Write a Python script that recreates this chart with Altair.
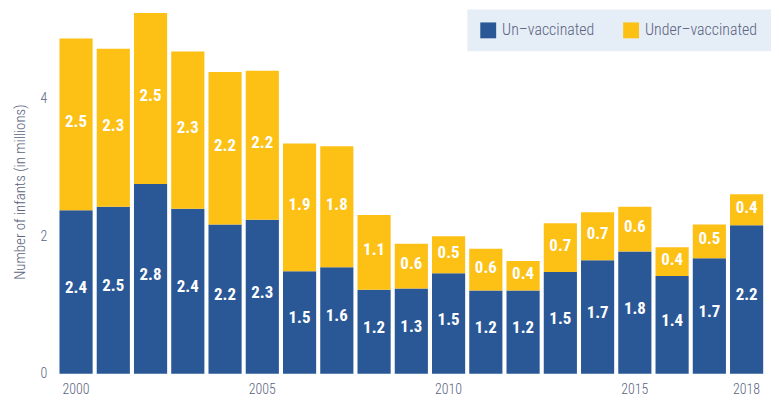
import altair as alt
import pandas as pd

years = list(range(2000, 2019))
unvacc = [2.38, 2.43, 2.76, 2.40, 2.17, 2.24, 1.49, 1.55, 1.22, 1.24,
          1.46, 1.21, 1.21, 1.48, 1.65, 1.78, 1.42, 1.68, 2.16]
undervacc = [2.50, 2.30, 2.49, 2.29, 2.22, 2.17, 1.86, 1.76, 1.09, 0.65,
             0.54, 0.61, 0.43, 0.71, 0.70, 0.65, 0.42, 0.49, 0.45]
unvacc_labels = ["2.4", "2.5", "2.8", "2.4", "2.2", "2.3", "1.5", "1.6", "1.2", "1.3",
                 "1.5", "1.2", "1.2", "1.5", "1.7", "1.8", "1.4", "1.7", "2.2"]
undervacc_labels = ["2.5", "2.3", "2.5", "2.3", "2.2", "2.2", "1.9", "1.8", "1.1", "0.6",
                    "0.5", "0.6", "0.4", "0.7", "0.7", "0.6", "0.4", "0.5", "0.4"]
series = ["Un–vaccinated", "Under–vaccinated"]
colors = ["#2a5796", "#fdc015"]
x_ticks = [2000, 2005, 2010, 2015, 2018]
y_ticks = [0, 2, 4]
y_title = "Number of infants (in millions)"

FONT = "Roboto Condensed"
TXT = "#5a6381"

rows = []
for i, yr in enumerate(years):
    rows.append({"year": yr, "series": series[0], "value": unvacc[i],
                 "label": unvacc_labels[i], "order": 0, "mid": unvacc[i] / 2})
    rows.append({"year": yr, "series": series[1], "value": undervacc[i],
                 "label": undervacc_labels[i], "order": 1,
                 "mid": unvacc[i] + undervacc[i] / 2})
df = pd.DataFrame(rows)

xenc = alt.X("year:O", title=None,
             scale=alt.Scale(paddingInner=0.11, paddingOuter=0.05),
             axis=alt.Axis(values=x_ticks, labelAngle=0, labelPadding=9))
yscale = alt.Scale(domain=[0, 5.3], nice=False)

bars = alt.Chart(df).mark_bar().encode(
    x=xenc,
    y=alt.Y("value:Q", stack="zero", scale=yscale, title=y_title,
            axis=alt.Axis(values=y_ticks, format="d", labelPadding=11, titlePadding=13)),
    color=alt.Color("series:N", scale=alt.Scale(domain=series, range=colors),
                    legend=alt.Legend(title=None, orient="none", legendX=413, legendY=0,
                                      direction="horizontal", fillColor="#e5edf6",
                                      padding=13, symbolType="square", symbolSize=256,
                                      symbolStrokeWidth=0, labelFontSize=16,
                                      labelFontWeight=300,
                                      labelColor=TXT, labelFont=FONT,
                                      columnPadding=28, labelOffset=6)),
    order=alt.Order("order:Q"),
)

text_un = alt.Chart(df).transform_filter(alt.datum.order == 0).mark_text(
    color="white", fontWeight="bold", fontSize=17, font=FONT, baseline="middle", dy=-4
).encode(x=xenc, y=alt.Y("mid:Q", scale=yscale), text="label:N")

text_under = alt.Chart(df).transform_filter(alt.datum.order == 1).mark_text(
    color="white", fontWeight="bold", fontSize=17, font=FONT, baseline="middle", dy=-2
).encode(x=xenc, y=alt.Y("mid:Q", scale=yscale), text="label:N")

chart = alt.layer(bars, text_un, text_under).properties(
    width=713, height=367,
    padding={"left": 4, "top": 0, "right": 0, "bottom": 5},
).configure_view(stroke=None).configure_axis(
    domain=False, ticks=False, grid=False, labelColor=TXT, labelFontSize=14,
    labelFont=FONT, labelFontWeight=300, titleFont=FONT, titleColor=TXT,
    titleFontSize=15, titleFontWeight=300
)

chart.save("out.html", embed_options={"renderer": "svg", "actions": False})
